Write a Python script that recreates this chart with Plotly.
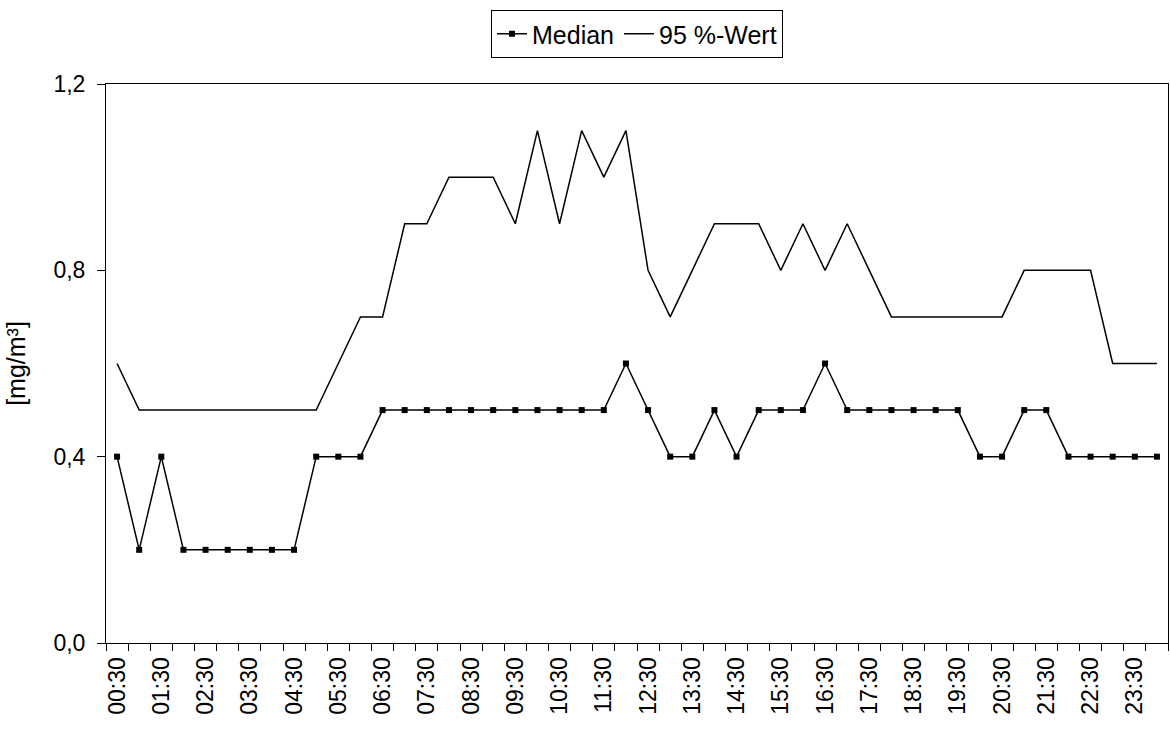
import plotly.graph_objects as go

# half-hourly categories 00:30 ... 24:00
times = ["00:30","01:00","01:30","02:00","02:30","03:00","03:30","04:00","04:30","05:00",
         "05:30","06:00","06:30","07:00","07:30","08:00","08:30","09:00","09:30","10:00",
         "10:30","11:00","11:30","12:00","12:30","13:00","13:30","14:00","14:30","15:00",
         "15:30","16:00","16:30","17:00","17:30","18:00","18:30","19:00","19:30","20:00",
         "20:30","21:00","21:30","22:00","22:30","23:00","23:30","24:00"]

median = [0.4,0.2,0.4,0.2,0.2,0.2,0.2,0.2,0.2,0.4,
          0.4,0.4,0.5,0.5,0.5,0.5,0.5,0.5,0.5,0.5,
          0.5,0.5,0.5,0.6,0.5,0.4,0.4,0.5,0.4,0.5,
          0.5,0.5,0.6,0.5,0.5,0.5,0.5,0.5,0.5,0.4,
          0.4,0.5,0.5,0.4,0.4,0.4,0.4,0.4]

p95 = [0.6,0.5,0.5,0.5,0.5,0.5,0.5,0.5,0.5,0.5,
       0.6,0.7,0.7,0.9,0.9,1.0,1.0,1.0,0.9,1.1,
       0.9,1.1,1.0,1.1,0.8,0.7,0.8,0.9,0.9,0.9,
       0.8,0.9,0.8,0.9,0.8,0.7,0.7,0.7,0.7,0.7,
       0.7,0.8,0.8,0.8,0.8,0.6,0.6,0.6]

tick_text = [t if i % 2 == 0 else "" for i, t in enumerate(times)]

FONT = "Liberation Sans, Arial, sans-serif"

fig = go.Figure()
fig.add_trace(go.Scatter(x=times, y=median, name="Median", mode="lines+markers",
                         line=dict(color="black", width=1.5),
                         marker=dict(symbol="square", size=6, color="black")))
fig.add_trace(go.Scatter(x=times, y=p95, name="95 %-Wert", mode="lines",
                         line=dict(color="black", width=1.5)))

fig.update_layout(
    width=1170, height=733,
    margin=dict(l=106, r=2, t=84, b=90, autoexpand=False),
    paper_bgcolor="white", plot_bgcolor="white",
    separators=", ",
    font=dict(family=FONT, size=23, color="black"),
    showlegend=True,
    legend=dict(orientation="h", x=0.5, xanchor="center", xref="paper",
                y=1 - 10 / 733, yanchor="top", yref="container",
                bordercolor="black", borderwidth=1, font=dict(size=25),
                itemwidth=30, tracegroupgap=0),
)
fig.update_xaxes(type="category", range=[-0.5, 47.5],
                 tickvals=times, ticktext=tick_text, tickangle=-90,
                 tickson="boundaries", ticks="outside", ticklen=7, tickcolor="black",
                 showline=True, linecolor="black", linewidth=1, mirror=True,
                 showgrid=False, tickfont=dict(size=23), automargin=False,
                 ticklabelstandoff=4)
fig.update_yaxes(range=[0, 1.2], dtick=0.4, tick0=0, tickformat=".1f",
                 ticks="outside", ticklen=8, tickcolor="black",
                 showline=True, linecolor="black", linewidth=1, mirror=True,
                 showgrid=False, zeroline=False, tickfont=dict(size=23),
                 automargin=False, ticklabelstandoff=7,
                 title=dict(text="[mg/m³]", font=dict(size=25), standoff=20))

fig.write_html("out.html", config={"displayModeBar": False},
               post_script="document.body.style.margin='0';document.body.style.overflow='hidden';")
